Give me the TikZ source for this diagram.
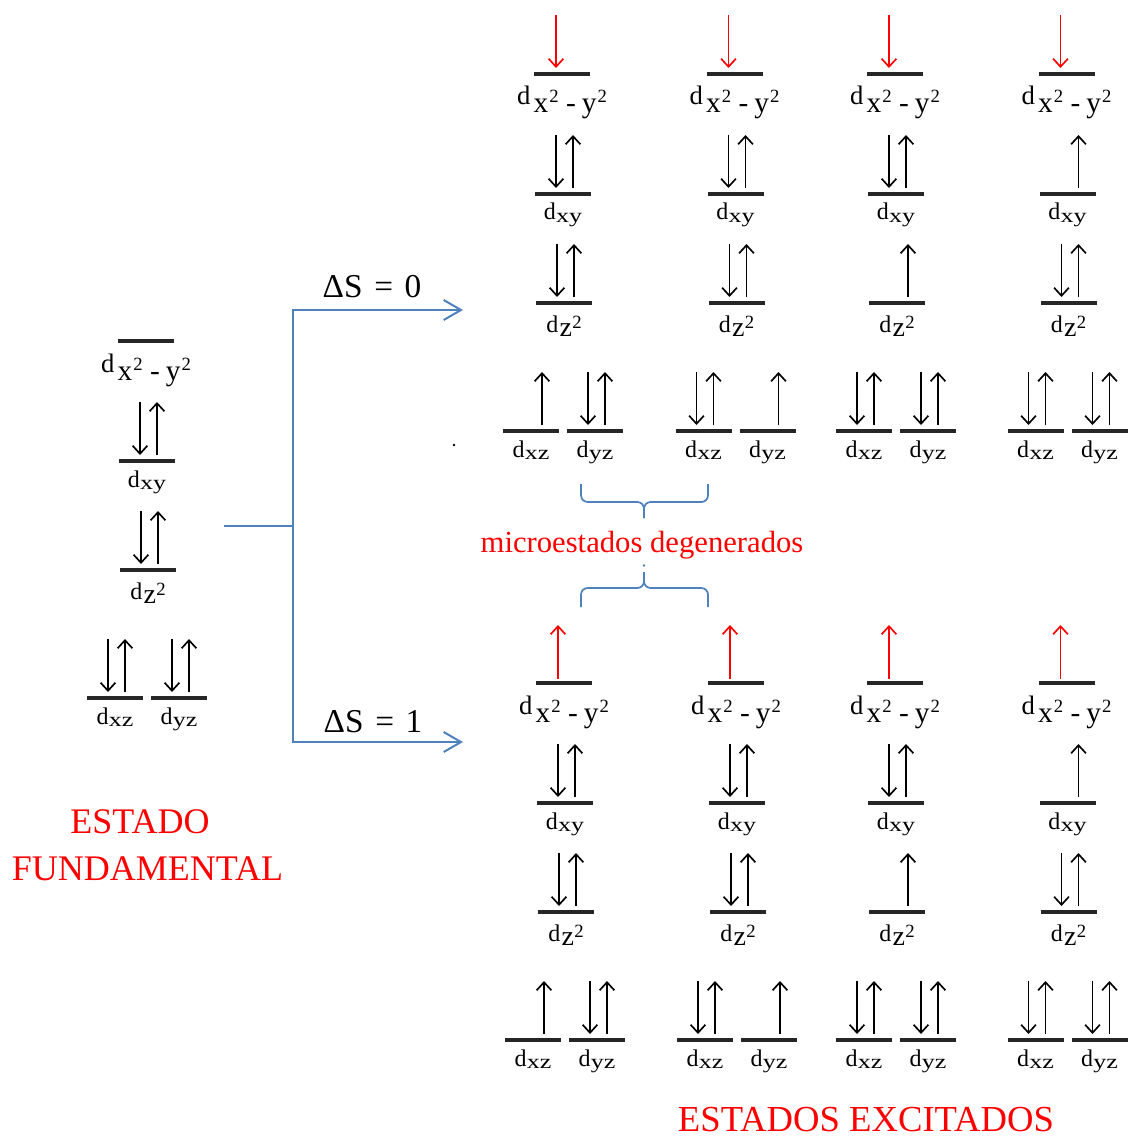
\documentclass[tikz,border=0pt]{standalone}
\usepackage{fontspec}
\setmainfont{Liberation Serif}
\usetikzlibrary{arrows.meta,calc}
\definecolor{obl}{RGB}{79,129,189}
\definecolor{rd}{RGB}{255,0,0}
\newcommand\dl[1]{d\kern0.3pt\raisebox{-2pt}{\scalebox{1.3}[1]{\fontsize{15}{15}\selectfont #1}}}
\newcommand\dzz{d\kern1pt\raisebox{-3pt}{\fontsize{21}{21}\selectfont z}\kern0.3pt\raisebox{2.5pt}{\fontsize{14}{14}\selectfont 2}}
\newcommand\dxx{{\fontsize{20}{20}\selectfont d}\kern2.5pt\raisebox{-6pt}{\fontsize{22}{22}\selectfont x\kern0.8pt\raisebox{7.5pt}{\fontsize{14}{14}\selectfont 2}\kern5.5pt-\kern4.5pt y\kern0.8pt\raisebox{7.5pt}{\fontsize{14}{14}\selectfont 2}}}
\tikzset{
  level/.style={line width=2.4pt, black!85},
  lab/.style={anchor=base, inner sep=0pt, font=\fontsize{18}{18}\selectfont},
  spin/.style={line width=1.25pt, -{Straight Barb[length=6pt,width=11pt,line width=1.25pt]}},
  rspin/.style={spin, rd},
  bl/.style={line width=1.5pt, obl},
  blarrow/.style={bl, -{Straight Barb[length=13pt,width=15pt,line width=1.5pt]}},
  redtxt/.style={text=rd, inner sep=0pt, anchor=base},
}
\newcommand\lev[5]{%
  \coordinate (#1) at (#2,#3);
  \draw[level] ($(#1)+(-28,0)$) -- ($(#1)+(28,0)$);
  \node[lab] (#1l) at ($(#1)+(0,#5)$) {#4};}
\newcommand\spins[2]{%
  \ifnum#2=2
    \draw[spin] ($(#1)+(-7,-59)$) -- ($(#1)+(-7,-6)$);
    \draw[spin] ($(#1)+(10,-6)$) -- ($(#1)+(10,-59)$);
  \else
    \draw[spin] ($(#1)+(11,-6)$) -- ($(#1)+(11,-59)$);
  \fi}
\newcommand\dcol[8]{%
  \lev{#1a}{#2}{#3}{\dxx}{31}
  \lev{#1b}{#2+1}{#3+120}{\dl{xy}}{26}
  \lev{#1c}{#2+2}{#3+229}{\dzz}{29}
  \lev{#1d}{#2-31}{#3+357}{\dl{xz}}{26}
  \lev{#1e}{#2+33}{#3+357}{\dl{yz}}{26}
  \if#4d \draw[rspin] ($(#1a)+(-6,-59)$) -- ($(#1a)+(-6,-6)$);\fi
  \if#4u \draw[rspin] ($(#1a)+(-6,-4)$) -- ($(#1a)+(-6,-58)$);\fi
  \spins{#1b}{#5}\spins{#1c}{#6}\spins{#1d}{#7}\spins{#1e}{#8}}
\begin{document}
\begin{tikzpicture}[x=0.75pt,y=-0.75pt]
\useasboundingbox (0,0) rectangle (1128,1137);
% ground state
\dcol{g}{146}{341}{n}{2}{2}{2}{2}
% excited states, Delta S = 0
\dcol{p}{562}{74}{d}{2}{2}{1}{2}
\dcol{q}{734.5}{74}{d}{2}{2}{2}{1}
\dcol{r}{895}{74}{d}{2}{1}{2}{2}
\dcol{s}{1066.5}{74}{d}{1}{2}{2}{2}
% excited states, Delta S = 1
\dcol{P}{564}{683}{u}{2}{2}{1}{2}
\dcol{Q}{736}{683}{u}{2}{2}{2}{1}
\dcol{R}{895}{683}{u}{2}{1}{2}{2}
\dcol{S}{1066.5}{683}{u}{1}{2}{2}{2}
% branching connector
\coordinate (gs) at (224,526);
\coordinate (split) at (293,526);
\coordinate (to0) at (463,310);
\coordinate (to1) at (463,742);
\draw[bl] (gs) -- (split);
\draw[blarrow] (split) |- (to0);
\draw[blarrow] (split) |- (to1);
\node[anchor=base, inner sep=0pt, font=\fontsize{25}{25}\selectfont] (ds0) at (372,297) {ΔS\hspace{0.35em}=\hspace{0.35em}0};
\node[anchor=base, inner sep=0pt, font=\fontsize{25}{25}\selectfont] (ds1) at (373,732) {ΔS\hspace{0.35em}=\hspace{0.35em}1};
% braces
\coordinate (b1l) at (581,484);
\coordinate (b1r) at (708,484);
\coordinate (b1t) at (644,518);
\draw[bl, line width=1.3pt, rounded corners=5] (b1l) -- (581,502) -- (644,502) -- (b1t);
\draw[bl, line width=1.3pt, rounded corners=5] (b1r) -- (708,502) -- (644,502) -- (b1t);
\coordinate (b2l) at (581,607);
\coordinate (b2r) at (708,607);
\coordinate (b2t) at (644,572);
\draw[bl, line width=1.3pt, rounded corners=5] (b2l) -- (581,588) -- (644,588) -- (b2t);
\draw[bl, line width=1.3pt, rounded corners=5] (b2r) -- (708,588) -- (644,588) -- (b2t);
\fill[obl] (644,565.5) circle[radius=1.3];
\fill[black] (454,445) circle[radius=1.3];
% texts
\node[redtxt, font=\fontsize{23}{23}\selectfont] (micro) at (642,552) {microestados degenerados};
\node[redtxt, font=\fontsize{27}{27}\selectfont] (est1) at (140,833) {ESTADO};
\node[redtxt, font=\fontsize{27}{27}\selectfont] (est2) at (147.5,880) {FUNDAMENTAL};
\node[redtxt, font=\fontsize{27.5}{27.5}\selectfont] (exc) at (866,1131) {ESTADOS EXCITADOS};
\end{tikzpicture}
\end{document}
